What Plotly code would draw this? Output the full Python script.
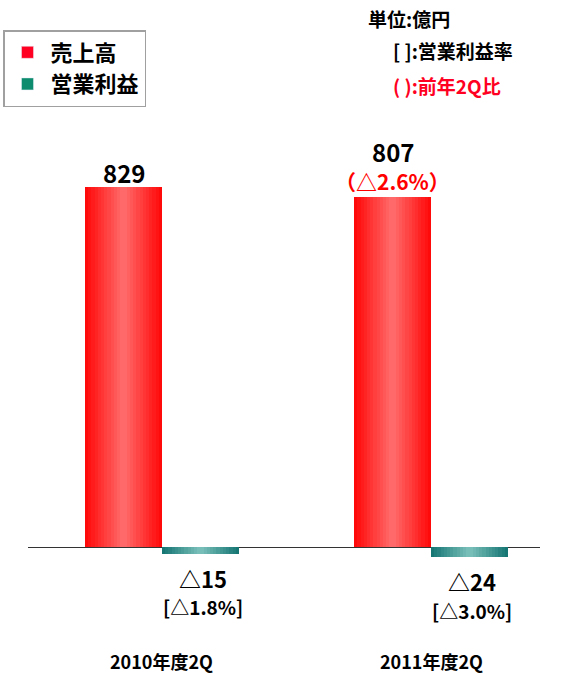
import plotly.graph_objects as go

categories = ["2010年度2Q", "2011年度2Q"]
sales = [829, 807]
op_profit = [-15, -24]
sales_labels = ["829", "807"]
sales_yoy = ["", "（△2.6%）"]
profit_labels = ["△15", "△24"]
margin_labels = ["[△1.8%]", "[△3.0%]"]
series_names = ["売上高", "営業利益"]

FONT = "Noto Sans CJK JP"
xs = [0, 1]
W = 0.286
N = 12

def mix(c1, c2, t):
    return "rgb(%d,%d,%d)" % tuple(round(a + (b - a) * t) for a, b in zip(c1, c2))

fig = go.Figure()

def gradient_bars(vals, center_off, edge, mid):
    for k in range(N):
        w = W * (1 - k / N)
        t = k / (N - 1)
        fig.add_trace(go.Bar(
            x=xs, y=vals, width=[w] * 2, offset=[center_off - w / 2] * 2,
            marker=dict(color=mix(edge, mid, t), line=dict(width=0)),
            showlegend=False, hoverinfo="skip"))

gradient_bars(sales, -W / 2, (255, 10, 10), (255, 105, 105))
gradient_bars(op_profit, W / 2, (22, 118, 116), (120, 190, 184))

# legend entries
fig.add_trace(go.Bar(x=[None], y=[None], name=series_names[0], marker_color="#FF0022"))
fig.add_trace(go.Bar(x=[None], y=[None], name=series_names[1], marker_color="#0E8C6E"))

ann = []
for i in range(2):
    ann.append(dict(x=xs[i] - W / 2, y=sales[i], xref="x", yref="y", text=sales_labels[i],
                    showarrow=False, yshift=(15 if not sales_yoy[i] else 45),
                    font=dict(size=24, color="black", family=FONT, weight="bold")))
    if sales_yoy[i]:
        ann.append(dict(x=xs[i] - W / 2, y=sales[i], xref="x", yref="y", text=sales_yoy[i],
                        showarrow=False, yshift=16,
                        font=dict(size=21, color="#FF0000", family=FONT, weight="bold")))
    ann.append(dict(x=xs[i] + W / 2 + 0.01, y=op_profit[i], xref="x", yref="y", text=profit_labels[i],
                    showarrow=False, yshift=-24,
                    font=dict(size=22, color="black", family=FONT, weight="bold")))
    ann.append(dict(x=xs[i] + W / 2 + 0.01, y=op_profit[i], xref="x", yref="y", text=margin_labels[i],
                    showarrow=False, yshift=-53,
                    font=dict(size=19, color="black", family=FONT, weight="bold")))
    ann.append(dict(x=xs[i], y=0, xref="x", yref="y", text=categories[i], showarrow=False,
                    yshift=-114, font=dict(size=18, color="black", family=FONT, weight="bold")))

def px_x(p):
    return (p - 28) / 512
def px_y(p):
    return (600 - p) / 500

ann.append(dict(x=px_x(366), y=px_y(18), xref="paper", yref="paper", xanchor="left", yanchor="middle",
                text="単位:億円", showarrow=False, font=dict(size=19, color="black", family=FONT, weight="bold")))
ann.append(dict(x=px_x(391), y=px_y(51), xref="paper", yref="paper", xanchor="left", yanchor="middle",
                text="[ ]:営業利益率", showarrow=False, font=dict(size=19, color="black", family=FONT, weight="bold")))
ann.append(dict(x=px_x(391), y=px_y(86), xref="paper", yref="paper", xanchor="left", yanchor="middle",
                text="( ):前年2Q比", showarrow=False, font=dict(size=19, color="#FF0022", family=FONT, weight="bold")))

fig.update_layout(
    width=569, height=673,
    margin=dict(l=28, r=29, t=100, b=73, autoexpand=False),
    plot_bgcolor="white", paper_bgcolor="white",
    barmode="overlay", bargap=0,
    showlegend=True,
    legend=dict(x=px_x(3), y=px_y(30), xanchor="left", yanchor="top",
                bordercolor="#A0A0A0", borderwidth=1.5, bgcolor="white",
                font=dict(size=22, color="black", family=FONT, weight="bold"),
                itemwidth=36),
    xaxis=dict(range=[-0.498, 1.405], showticklabels=False, showgrid=False, zeroline=False,
               showline=False, ticks=""),
    yaxis=dict(range=[-122, 1030], showticklabels=False, showgrid=False, zeroline=True,
               zerolinecolor="#333333", zerolinewidth=1, showline=False, ticks=""),
    annotations=ann,
    font=dict(family=FONT),
)

fig.write_html("out.html", config={"displayModeBar": False},
               post_script="document.body.style.margin='0';")
